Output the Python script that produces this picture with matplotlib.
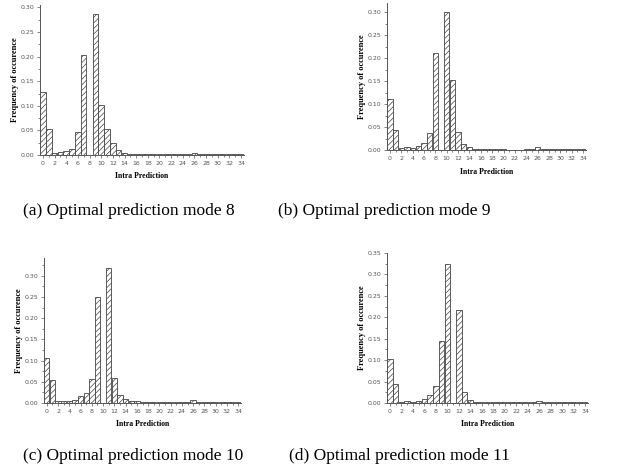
import numpy as np
import matplotlib
matplotlib.use("Agg")
import matplotlib.pyplot as plt

plt.rcParams['hatch.linewidth'] = 0.5

modes = np.arange(35)

freq_mode8 = [0.129, 0.052, 0.005, 0.007, 0.008, 0.012, 0.047, 0.203, 0.0, 0.287,
              0.101, 0.052, 0.024, 0.010, 0.005, 0.003, 0.002, 0.002, 0.002, 0.002,
              0.002, 0.002, 0.002, 0.002, 0.002, 0.002, 0.005, 0.002, 0.002, 0.002,
              0.002, 0.002, 0.002, 0.002, 0.003]
freq_mode9 = [0.111, 0.044, 0.004, 0.006, 0.004, 0.009, 0.015, 0.037, 0.211, 0.0,
              0.300, 0.153, 0.040, 0.012, 0.007, 0.002, 0.002, 0.002, 0.002, 0.002,
              0.002, 0.001, 0.001, 0.001, 0.002, 0.002, 0.006, 0.002, 0.002, 0.002,
              0.002, 0.002, 0.002, 0.002, 0.002]
freq_mode10 = [0.106, 0.055, 0.004, 0.005, 0.005, 0.006, 0.016, 0.024, 0.057, 0.251,
               0.0, 0.319, 0.058, 0.018, 0.009, 0.005, 0.004, 0.003, 0.003, 0.003,
               0.003, 0.003, 0.002, 0.002, 0.002, 0.003, 0.007, 0.003, 0.003, 0.002,
               0.002, 0.003, 0.003, 0.003, 0.003]
freq_mode11 = [0.102, 0.045, 0.003, 0.005, 0.003, 0.005, 0.010, 0.018, 0.039, 0.145,
               0.325, 0.0, 0.218, 0.026, 0.008, 0.002, 0.002, 0.002, 0.002, 0.002,
               0.002, 0.002, 0.002, 0.002, 0.002, 0.002, 0.005, 0.002, 0.002, 0.002,
               0.002, 0.002, 0.002, 0.002, 0.002]

captions = ["(a) Optimal prediction mode 8", "(b) Optimal prediction mode 9",
            "(c) Optimal prediction mode 10", "(d) Optimal prediction mode 11"]

W, H = 641, 470

# axes boxes in pixels: left, top, right, bottom
boxes = [(40, 5, 244, 155), (387, 3, 586, 150), (44, 258, 241, 403), (387, 253, 588, 403)]
ytops = [0.305, 0.32, 0.342, 0.35]
cap_pos = [(129, 211), (384, 211), (133, 456), (399, 456)]
datasets = [freq_mode8, freq_mode9, freq_mode10, freq_mode11]

fig = plt.figure(figsize=(W / 100, H / 100), dpi=100)

for data, box, ytop, cap, cp in zip(datasets, boxes, ytops, captions, cap_pos):
    l, t, r, b = box
    ax = fig.add_axes([l / W, 1 - b / H, (r - l) / W, (b - t) / H])
    ax.bar(modes, data, width=0.95, color='white', edgecolor='#444444',
           linewidth=0.6, hatch='//////')
    ax.set_xlim(-0.5, 34.5)
    ax.set_ylim(0, ytop)
    for s in ['top', 'right']:
        ax.spines[s].set_visible(False)
    for s in ['left', 'bottom']:
        ax.spines[s].set_color('#555555')
        ax.spines[s].set_linewidth(0.7)
    ax.set_xticks(np.arange(0, 35, 2))
    ax.set_xticks(np.arange(0, 35, 1), minor=True)
    ax.set_yticks(np.arange(0, ytop + 0.001, 0.05))
    ax.set_yticks(np.arange(0.025, ytop, 0.05), minor=True)
    ax.yaxis.set_major_formatter(plt.FormatStrFormatter('%.2f'))
    ax.tick_params(which='both', labelsize=4.5, colors='#555555', width=0.5, pad=1.5)
    ax.tick_params(which='major', length=2.5)
    ax.tick_params(which='minor', length=1.5)
    ax.set_xlabel('Intra Prediction', fontsize=5.6, fontweight='bold',
                  family='Liberation Serif', labelpad=5)
    ax.set_ylabel('Frequency of occurence', fontsize=6, fontweight='bold',
                  family='Liberation Serif', labelpad=1)
    fig.text(cp[0] / W, 1 - cp[1] / H, cap, ha='center', va='center',
             fontsize=12.5, family='Liberation Serif')

fig.savefig('out.png', dpi=100)
